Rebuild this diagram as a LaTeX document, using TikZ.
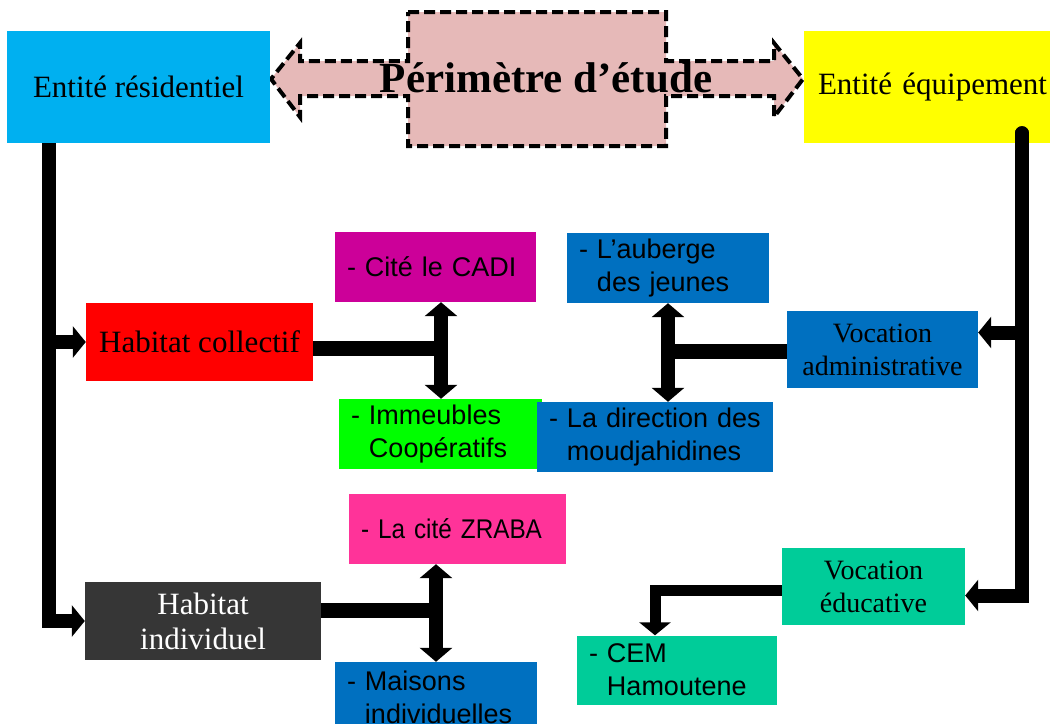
\documentclass[tikz,border=0pt]{standalone}
\usepackage{fontspec}
\setmainfont{Liberation Serif}
\newfontfamily\sansfont{Liberation Sans}
\newfontfamily\sansnarrow[FakeStretch=0.9]{Liberation Sans}
\usetikzlibrary{arrows.meta}
\definecolor{mycyan}{HTML}{00B0F0}
\definecolor{mypink}{HTML}{E6B9B8}
\definecolor{myyellow}{HTML}{FFFF00}
\definecolor{myred}{HTML}{FF0000}
\definecolor{mymagenta}{HTML}{CC0099}
\definecolor{mygreen}{HTML}{00FF00}
\definecolor{myblue}{HTML}{0070C0}
\definecolor{myrose}{HTML}{FF3399}
\definecolor{mydarkgray}{HTML}{363636}
\definecolor{myteal}{HTML}{00CC99}
\tikzstyle{perimeter}=[fill=mypink,line width=4,dash pattern=on 11pt off 5pt,line join=miter]
\tikzstyle{title}=[inner sep=0,font=\fontsize{43}{48}\selectfont\bfseries]
\tikzstyle{entity}=[inner sep=0,align=center,font=\fontsize{31}{35}\selectfont]
\tikzstyle{vocation}=[inner sep=0,align=center,font=\fontsize{28}{33}\selectfont]
\tikzstyle{item}=[inner xsep=12,inner ysep=0,align=left,font=\sansfont\fontsize{27}{33}\selectfont]
\tikzstyle{conn}=[line width=14,line join=miter,-{Triangle[length=13pt,width=31pt]}]
\tikzstyle{bar}=[line width=15]
\tikzstyle{dbl}=[line width=14,{Triangle[length=14pt,width=32pt]}-{Triangle[length=14pt,width=32pt]}]
\newcommand\mylead{\hphantom{- }}

\begin{document}
\begin{tikzpicture}[x=1pt,y=-1pt]
  \useasboundingbox (0,0) rectangle (1052,723);
  \clip (0,0) rectangle (1052,723);

  % PERIMETRE D'ETUDE
  \draw[perimeter] (408,12) -- (666,12) -- (666,61) -- (774,61) -- (774,43) -- (803,79)
    -- (774,117) -- (774,96) -- (666,96) -- (666,146) -- (408,146) -- (408,96)
    -- (300,96) -- (300,117) -- (271,79) -- (300,43) -- (300,61) -- (408,61) -- cycle;
  \node[title] (perim) at (546,78) {Périmètre d’étude};

  % ENTITIES
  \node[entity,fill=mycyan,minimum width=263,minimum height=112] (res) at (138.5,87) {Entité résidentiel};
  \node[entity,fill=myyellow,inner xsep=3,text width=240,align=right,minimum height=112] (equip) at (927,87) {Entité équipement};

  % HABITAT
  \node[entity,fill=myred,minimum width=227,minimum height=78] (coll) at (199.5,342) {Habitat collectif};
  \node[entity,fill=mydarkgray,text=white,minimum width=236,minimum height=78] (ind) at (203,621) {Habitat\\individuel};
  \node[item,fill=mymagenta,text width=177,minimum height=70] (cadi) at (435.5,267) {- Cité le CADI};
  \node[item,fill=mygreen,text width=179,minimum height=70] (imm) at (440.5,434) {- Immeubles\\\mylead Coopératifs};
  \node[item,fill=myrose,text width=193,minimum height=70] (zraba) at (457.5,529) {\sansnarrow - La cité ZRABA};
  \node[item,fill=myblue,text width=178,minimum height=70] (maisons) at (436,697) {- Maisons\\\mylead individuelles};

  % EQUIPEMENT
  \node[vocation,fill=myblue,minimum width=191,minimum height=77] (admin) at (882.5,349.5) {Vocation\\administrative};
  \node[vocation,fill=myteal,minimum width=183,minimum height=77] (edu) at (873.5,586.5) {Vocation\\éducative};
  \node[item,fill=myblue,text width=178,minimum height=70] (auberge) at (668,268) {- L’auberge\\\mylead des jeunes};
  \node[item,fill=myblue,text width=212,minimum height=70] (direction) at (655,437) {- La direction des\\\mylead moudjahidines};
  \node[item,fill=myteal,text width=176,minimum height=69] (cem) at (677,670) {- CEM\\\mylead Hamoutene};

  % CONNECTORS
  \coordinate (jcoll) at (441,348);
  \coordinate (jind) at (436,610);
  \coordinate (jadm) at (668,351);

  \draw[conn] ([xshift=-89.5]res.south) |- (coll);
  \draw[conn] ([xshift=-89.5]res.south) |- (ind);
  \draw[conn,line cap=round] ([xshift=95,yshift=10]equip.south) |- ([yshift=17]admin.east);
  \draw[conn,line cap=round] ([xshift=95,yshift=10]equip.south) |- ([yshift=-9]edu.east);
  \draw[conn,line width=11] ([yshift=-3.5]edu.west) -| ([xshift=-22]cem.north);

  \draw[bar] (coll.east |- jcoll) -- (jcoll);
  \draw[dbl] (cadi.south -| jcoll) -- (imm.north -| jcoll);
  \draw[bar] (ind.east |- jind) -- (jind);
  \draw[dbl] (zraba.south -| jind) -- (maisons.north -| jind);
  \draw[bar] (admin.west |- jadm) -- (jadm);
  \draw[dbl] (auberge.south -| jadm) -- (direction.north -| jadm);
\end{tikzpicture}
\end{document}
